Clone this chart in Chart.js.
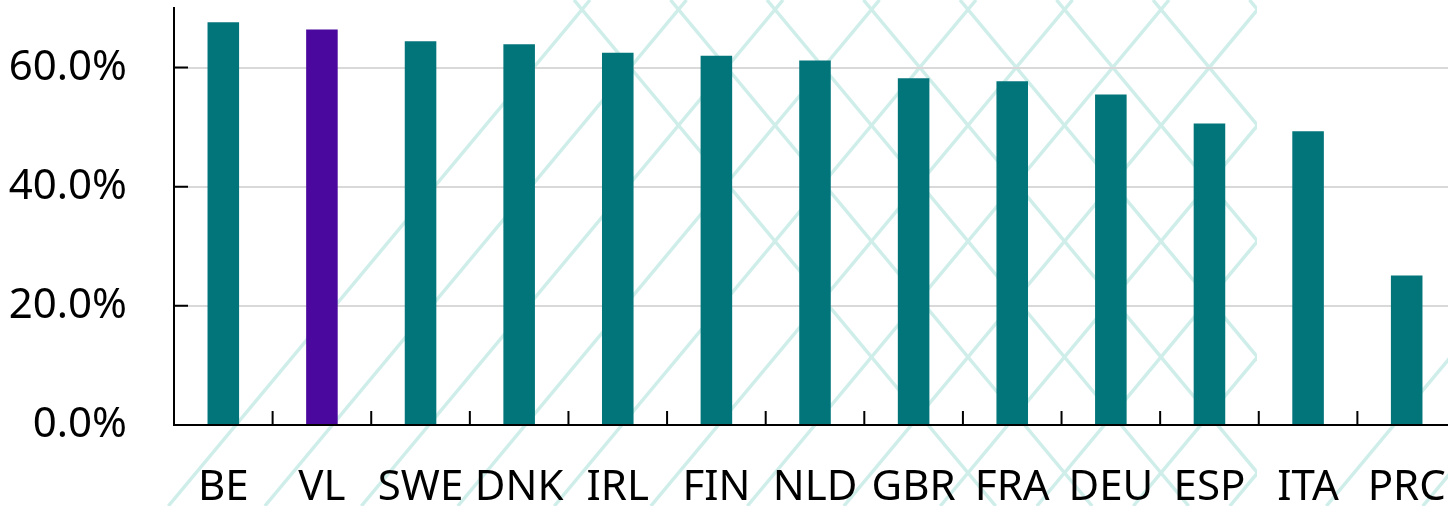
<!DOCTYPE html>
<html lang="en">
<head>
    <meta charset="UTF-8">
    <title>Share by country</title>
    <script src="https://cdn.jsdelivr.net/npm/chart.js"></script>
    <style>
        html, body { margin: 0; padding: 0; overflow: hidden; background: #fff; }
        #wrap { width: 1456px; height: 506px; }
    </style>
</head>
<body>
    <div id="wrap"><canvas id="outputChart"></canvas></div>

    <script>
// data (percent)
const countries = ['BE', 'VL', 'SWE', 'DNK', 'IRL', 'FIN', 'NLD', 'GBR', 'FRA', 'DEU', 'ESP', 'ITA', 'PRC'];
const shares = [67.6, 66.4, 64.4, 63.9, 62.5, 62.0, 61.2, 58.2, 57.7, 55.5, 50.6, 49.3, 25.1];
const yTicks = [0, 20, 40, 60];

const teal = '#02757a';
const purple = '#4a089e';
const barColors = countries.map(c => c === 'VL' ? purple : teal);

// light diamond watermark behind the chart
const watermark = {
    id: 'watermark',
    beforeDraw(chart) {
        const ctx = chart.ctx;
        const h = chart.height;
        const s = 1.2, step = 96.5, c0 = 590, d0 = 574, edge = 1257;
        ctx.save();
        ctx.strokeStyle = '#cfeeea';
        ctx.lineWidth = 3.5;
        // "/" lines: x + y/s = c
        for (let n = 0; n < 20; n++) {
            const c = c0 + n * step;
            ctx.save();
            ctx.beginPath();
            ctx.rect(0, 0, n >= 12 ? chart.width : edge, h);
            ctx.clip();
            ctx.beginPath();
            ctx.moveTo(c, 0);
            ctx.lineTo(c - h / s, h);
            ctx.stroke();
            ctx.restore();
        }
        // "\" lines: x - y/s = c'
        ctx.beginPath();
        ctx.rect(0, 0, edge, h);
        ctx.clip();
        for (let m = 0; m < 8; m++) {
            const d = d0 + m * step;
            ctx.beginPath();
            ctx.moveTo(d, 0);
            ctx.lineTo(d + h / s, h);
            ctx.stroke();
        }
        ctx.restore();
    }
};

// tick marks point into the plot
const innerTicks = {
    id: 'innerTicks',
    afterDraw(chart) {
        const ctx = chart.ctx;
        const a = chart.chartArea;
        const xs = chart.scales.x, ys = chart.scales.y;
        ctx.save();
        ctx.strokeStyle = '#000';
        ctx.lineWidth = 2;
        ctx.beginPath();
        ys.ticks.forEach(t => {
            const y = ys.getPixelForValue(t.value);
            ctx.moveTo(a.left, y);
            ctx.lineTo(a.left + 14, y);
        });
        for (let i = 1; i < countries.length; i++) {
            const x = (xs.getPixelForValue(i - 1) + xs.getPixelForValue(i)) / 2;
            ctx.moveTo(x, a.bottom);
            ctx.lineTo(x, a.bottom - 14);
        }
        ctx.stroke();
        ctx.restore();
    }
};

Chart.defaults.font.family = "'Noto Sans', sans-serif";
Chart.defaults.color = '#000';

const ctx = document.getElementById('outputChart').getContext('2d');
new Chart(ctx, {
    type: 'bar',
    data: {
        labels: countries,
        datasets: [{
            data: shares,
            backgroundColor: barColors,
            borderWidth: 0,
            categoryPercentage: 1,
            barPercentage: 0.32
        }]
    },
    options: {
        responsive: true,
        maintainAspectRatio: false,
        animation: false,
        layout: { padding: { top: 8, left: 0, right: 0, bottom: 0 } },
        plugins: { legend: { display: false }, tooltip: { enabled: false } },
        scales: {
            x: {
                afterFit: scale => {
                    scale.height = 81;
                    scale.paddingLeft = 0;
                    scale.paddingRight = 0;
                },
                grid: { display: false, drawTicks: false },
                border: { color: '#000', width: 2 },
                ticks: { font: { size: 42 }, padding: 38, maxRotation: 0, autoSkip: false }
            },
            y: {
                min: 0,
                max: 70,
                afterFit: scale => {
                    scale.width = 174;
                    scale.paddingTop = 0;
                    scale.paddingBottom = 0;
                },
                afterBuildTicks: scale => {
                    scale.ticks = yTicks.map(v => ({ value: v }));
                },
                grid: { color: '#d9d9d9', lineWidth: 2, drawTicks: false },
                border: { color: '#000', width: 2 },
                ticks: {
                    font: { size: 42 },
                    padding: 47,
                    callback: v => v.toFixed(1) + '%'
                }
            }
        }
    },
    plugins: [watermark, innerTicks]
});
    </script>
</body>
</html>
